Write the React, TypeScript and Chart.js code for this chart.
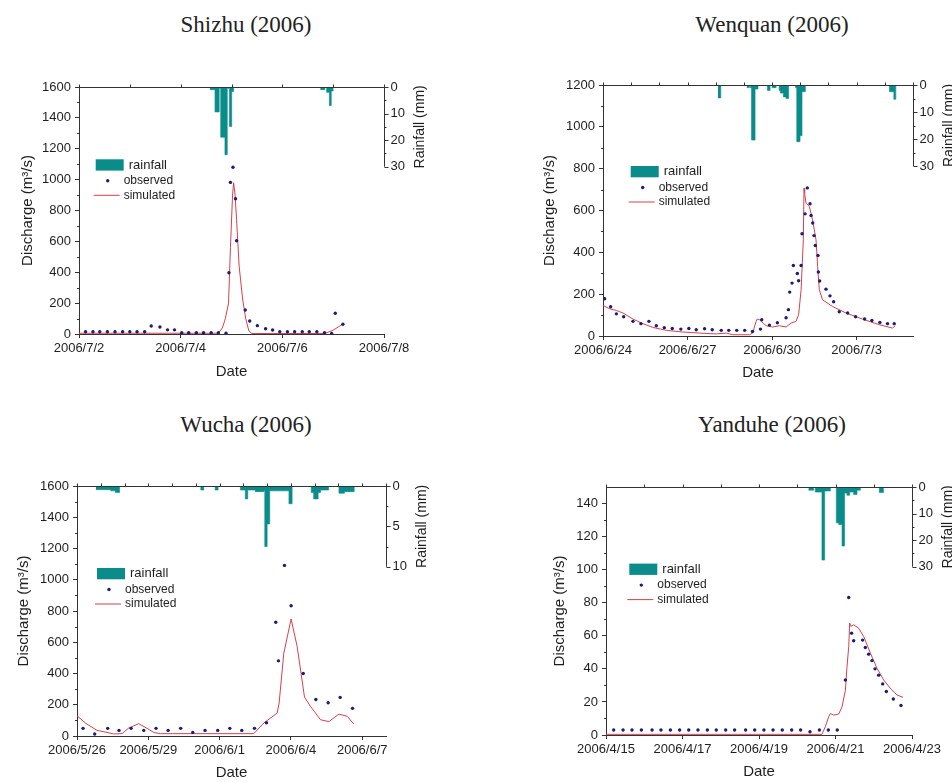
import React, { useEffect, useRef } from "react";
import { Chart, registerables } from "chart.js";

Chart.register(...registerables);

const FONT = "'Liberation Sans', Arial, Helvetica, sans-serif";
const TITLE_FONT = "'Liberation Serif', 'DejaVu Serif', serif";
const TEAL = "#0a8d8a";
const NAVY = "#1b1b78";
const RED = "#d6404c";
const AXIS = "#333333";
const TEXT = "#1e1e1e";

Chart.defaults.font.family = FONT;

// ---------------- Shizhu (2006) ----------------  x in hours from 2006/7/2 00:00
const shizhuXTicks = [0, 48, 96, 144];
const shizhuXLabels = ["2006/7/2", "2006/7/4", "2006/7/6", "2006/7/8"];
const shizhuYTicks = [0, 200, 400, 600, 800, 1000, 1200, 1400, 1600];
const shizhuRainTicks = [0, 10, 20, 30];
const shizhuObsT = [3.1, 6.6, 9.8, 13.4, 17.0, 20.6, 24.0, 27.4, 31.0, 34.1, 38.2, 41.8, 45.1, 48.5, 51.8, 55.4, 58.8, 62.4, 65.8, 69.4, 70.8, 71.5, 72.7, 73.9, 74.4, 78.5, 80.6, 84.2, 88.1, 91.4, 94.8, 98.4, 101.8, 105.4, 108.7, 112.3, 115.9, 119.3, 121.0, 124.6];
const shizhuObsQ = [15, 15, 15, 15, 15, 15, 15, 15, 15, 52, 45, 27, 27, 8, 8, 8, 8, 8, 8, 5, 397, 982, 1080, 876, 604, 155, 84, 54, 34, 26, 15, 15, 15, 15, 15, 15, 9, 4, 134, 63];
const shizhuSimT = [0, 65.8, 67.7, 69.1, 70.6, 71.5, 72.5, 73.0, 73.7, 74.4, 75.6, 77.3, 78.7, 80.2, 81.6, 116.2, 120.0, 124.3];
const shizhuSimQ = [5, 5, 40, 100, 200, 560, 900, 980, 900, 740, 440, 220, 100, 20, 3, 3, 25, 62];
const shizhuRainT = [61.8, 64.2, 66.2, 66.9, 68.9, 70.0, 71.0, 72.1, 73.0, 114.1, 116.1, 116.9, 118.2, 119.1, 120.0];
const shizhuRainMm = [1, 9.4, 0.5, 18.9, 25.5, 0.5, 14.9, 1.7, 0, 1, 0, 2, 7, 1.5, 0];

// ---------------- Wenquan (2006) ----------------  x in hours from 2006/6/24 00:00
const wenquanXTicks = [0, 72, 144, 216];
const wenquanXLabels = ["2006/6/24", "2006/6/27", "2006/6/30", "2006/7/3"];
const wenquanYTicks = [0, 200, 400, 600, 800, 1000, 1200];
const wenquanRainTicks = [0, 10, 20, 30];
const wenquanObsT = [1.4, 6.5, 11.4, 17.6, 25.5, 32.3, 39.1, 45.4, 52.2, 59.0, 66.3, 73.1, 79.4, 86.5, 93.0, 100.7, 107.1, 113.9, 120.7, 127.3, 134.1, 135.2, 141.7, 148.5, 155.9, 157.9, 159.0, 161.0, 162.1, 165.5, 166.6, 168.7, 169.5, 172.1, 174.0, 176.3, 177.2, 178.6, 179.7, 180.8, 183.1, 183.4, 184.5, 189.9, 193.3, 196.4, 201.2, 208.3, 215.1, 222.8, 229.0, 235.8, 242.3, 248.0];
const wenquanObsQ = [178, 140, 106, 92, 70, 59, 70, 49, 40, 36, 33, 36, 30, 35, 30, 27, 27, 27, 27, 22, 33, 78, 52, 63, 87, 126, 210, 253, 337, 299, 264, 337, 489, 584, 708, 632, 576, 540, 480, 433, 385, 306, 263, 224, 192, 164, 116, 110, 92, 81, 74, 65, 59, 59];
const wenquanSimT = [0, 5.7, 11.4, 17.0, 25.5, 34.0, 42.5, 53.9, 68.0, 82.2, 96.4, 105.0, 110.5, 124.7, 127.5, 130.4, 131.3, 133.2, 138.9, 144.5, 150.2, 155.9, 160.2, 164.4, 166.6, 168.7, 170.6, 171.2, 171.7, 172.9, 175.7, 178.5, 181.4, 182.8, 184.2, 187.0, 195.5, 206.9, 221.0, 235.2, 246.5, 248.9];
const wenquanSimQ = [146, 130, 122, 110, 81, 59, 41, 27, 19, 14, 10, 14, 6, 6, 14, 70, 81, 78, 49, 43, 49, 43, 62, 70, 102, 221, 460, 707, 683, 635, 619, 555, 460, 332, 221, 173, 141, 110, 81, 54, 38, 49];
const wenquanRainT = [97.8, 100.3, 122.8, 124.7, 125.5, 126.5, 129.5, 132.0, 140.0, 142.3, 144.0, 147.4, 150.0, 151.0, 153.6, 155.9, 158.1, 164.0, 165.0, 167.8, 169.5, 172.3, 244.0, 247.7, 249.4];
const wenquanRainMm = [4.8, 0, 1, 0, 1, 20.4, 1.5, 0, 2, 0, 1, 0, 2, 3, 4.4, 5, 0, 1, 21, 18.8, 2.5, 0, 2.5, 5.3, 0];

// ---------------- Wucha (2006) ----------------  x in hours from 2006/5/26 00:00
const wuchaXTicks = [0, 72, 144, 216, 288];
const wuchaXLabels = ["2006/5/26", "2006/5/29", "2006/6/1", "2006/6/4", "2006/6/7"];
const wuchaYTicks = [0, 200, 400, 600, 800, 1000, 1200, 1400, 1600];
const wuchaRainTicks = [0, 5, 10];
const wuchaObsT = [6.1, 17.9, 31.0, 42.4, 54.6, 67.4, 79.8, 92.0, 104.7, 116.9, 129.3, 142.1, 154.3, 166.4, 179.2, 191.3, 200.7, 203.4, 209.5, 216.2, 228.4, 241.2, 253.6, 265.7, 278.2];
const wuchaObsQ = [49, 13, 49, 36, 49, 36, 49, 36, 49, 23, 36, 36, 49, 36, 49, 85, 728, 481, 1092, 834, 400, 234, 213, 247, 177];
const wuchaSimT = [0, 8.4, 20.2, 30.3, 37.0, 45.5, 52.2, 62.3, 70.7, 77.5, 84.2, 178.5, 188.6, 202.1, 204.1, 208.8, 216.2, 222.3, 229.7, 235.8, 245.9, 254.3, 264.4, 272.8, 279.5];
const wuchaSimQ = [130, 83, 36, 23, 13, 15, 51, 79, 49, 23, 15, 15, 83, 147, 211, 530, 749, 572, 249, 189, 104, 92, 140, 126, 77];
const wuchaRainT = [19, 34, 38.7, 43, 125, 128, 139.5, 142.5, 165, 170, 172.4, 180, 188.6, 189.6, 192, 194.6, 214, 217.2, 236.5, 239, 243.5, 246, 254, 264.5, 270, 280];
const wuchaRainMm = [0.45, 0.6, 0.8, 0, 0.5, 0, 0.5, 0, 0.5, 1.6, 0.5, 0.7, 0.6, 7.5, 4.7, 0.6, 2.2, 0, 0.8, 1.6, 0.8, 0.5, 0, 0.9, 0.7, 0];

// ---------------- Yanduhe (2006) ----------------  x in hours from 2006/4/15 00:00
const yanduheXTicks = [0, 48, 96, 144, 192];
const yanduheXLabels = ["2006/4/15", "2006/4/17", "2006/4/19", "2006/4/21", "2006/4/23"];
const yanduheYTicks = [0, 20, 40, 60, 80, 100, 120, 140];
const yanduheRainTicks = [0, 10, 20, 30];
const yanduheObsT = [4.8, 10.7, 16.3, 22.2, 28.9, 34.5, 40.4, 46.2, 51.9, 57.7, 63.6, 69.2, 75.1, 80.7, 87.6, 93.3, 99.1, 104.8, 110.6, 116.5, 122.1, 128.0, 133.9, 139.5, 145.1, 150.2, 152.3, 154.1, 155.4, 161.0, 162.7, 164.8, 166.9, 168.8, 171.1, 173.6, 175.9, 180.3, 185.1];
const yanduheObsQ = [3, 3, 3, 3, 3, 3, 3, 3, 3, 3, 3, 3, 3, 3, 3, 3, 3, 3, 3, 3, 3, 2, 3, 3, 3, 33.3, 83.2, 61.6, 57, 57.4, 52.9, 48.9, 45, 40, 36.2, 30.9, 26.3, 21.8, 17.8];
const yanduheSimT = [0, 135.5, 137.6, 139.7, 140.8, 142.9, 146.0, 148.1, 150.2, 151.2, 152.3, 152.9, 153.7, 155.4, 158.5, 161.7, 165.9, 170.0, 174.2, 178.4, 182.6, 186.4];
const yanduheSimQ = [0.4, 0.4, 5, 11, 13, 12, 12.7, 17, 27, 41, 53.5, 67.7, 65.7, 66.7, 64.6, 59.6, 49.5, 40.4, 33.3, 28.3, 24.2, 22.8];
const yanduheRainT = [127.0, 130.3, 131.3, 135.5, 137.2, 140.8, 144.5, 146.0, 148.1, 149.7, 151.2, 152.9, 155.4, 157.5, 159.6, 171.5, 174.2];
const yanduheRainMm = [1.2, 0, 1.9, 27.5, 1.5, 0, 13.5, 14.1, 22.2, 2.3, 3.1, 1.9, 2.8, 1.2, 0, 2.1, 0];

type PanelDef = {
  key: string;
  title: string;
  titleX: number;
  titleY: number;
  cx: number; cy: number; cw: number; ch: number; // canvas rect on page
  L: number; T: number; R: number; B: number;     // plot area on page
  yTitleX: number; dateY: number; rainBottom: number;
  legend: [number, number];
  xMax: number; xTicks: number[]; xLabels: string[];
  yMax: number; yTicks: number[]; yMinor: number;
  rainTicks: number[]; rainMinor: number;
  obsT: number[]; obsQ: number[];
  simT: number[]; simQ: number[];
  rainT: number[]; rainMm: number[];
};

const panels: PanelDef[] = [
  {
    key: "shizhu", title: "Shizhu (2006)", titleX: 246, titleY: 25,
    cx: 0, cy: 40, cw: 476, ch: 360,
    L: 79, T: 87, R: 384, B: 334,
    yTitleX: 28, dateY: 371.7, rainBottom: 166.7, legend: [16.7, 72.3],
    xMax: 144, xTicks: shizhuXTicks, xLabels: shizhuXLabels,
    yMax: 1600, yTicks: shizhuYTicks, yMinor: 100,
    rainTicks: shizhuRainTicks, rainMinor: 5,
    obsT: shizhuObsT, obsQ: shizhuObsQ, simT: shizhuSimT, simQ: shizhuSimQ,
    rainT: shizhuRainT, rainMm: shizhuRainMm,
  },
  {
    key: "wenquan", title: "Wenquan (2006)", titleX: 772, titleY: 25,
    cx: 476, cy: 40, cw: 476, ch: 360,
    L: 603, T: 85, R: 913, B: 336,
    yTitleX: 550, dateY: 373.3, rainBottom: 166, legend: [27.7, 81],
    xMax: 264, xTicks: wenquanXTicks, xLabels: wenquanXLabels,
    yMax: 1200, yTicks: wenquanYTicks, yMinor: 100,
    rainTicks: wenquanRainTicks, rainMinor: 5,
    obsT: wenquanObsT, obsQ: wenquanObsQ, simT: wenquanSimT, simQ: wenquanSimQ,
    rainT: wenquanRainT, rainMm: wenquanRainMm,
  },
  {
    key: "wucha", title: "Wucha (2006)", titleX: 246, titleY: 425,
    cx: 0, cy: 430, cw: 476, ch: 352,
    L: 77, T: 486, R: 386, B: 736,
    yTitleX: 24, dateY: 773.3, rainBottom: 566.7, legend: [20, 82],
    xMax: 312, xTicks: wuchaXTicks, xLabels: wuchaXLabels,
    yMax: 1600, yTicks: wuchaYTicks, yMinor: 100,
    rainTicks: wuchaRainTicks, rainMinor: 2.5,
    obsT: wuchaObsT, obsQ: wuchaObsQ, simT: wuchaSimT, simQ: wuchaSimQ,
    rainT: wuchaRainT, rainMm: wuchaRainMm,
  },
  {
    key: "yanduhe", title: "Yanduhe (2006)", titleX: 772, titleY: 425,
    cx: 476, cy: 430, cw: 476, ch: 352,
    L: 606, T: 487, R: 912, B: 735,
    yTitleX: 560, dateY: 771.7, rainBottom: 566.7, legend: [23.3, 76.6],
    xMax: 192, xTicks: yanduheXTicks, xLabels: yanduheXLabels,
    yMax: 150, yTicks: yanduheYTicks, yMinor: 10,
    rainTicks: yanduheRainTicks, rainMinor: 5,
    obsT: yanduheObsT, obsQ: yanduheObsQ, simT: yanduheSimT, simQ: yanduheSimQ,
    rainT: yanduheRainT, rainMm: yanduheRainMm,
  },
];

const pts = (xs: number[], ys: number[]) => xs.map((x, i) => ({ x, y: ys[i] }));

function makeDecor(p: PanelDef) {
  return {
    id: "decor_" + p.key,
    afterDraw(chart: any) {
      const ctx: CanvasRenderingContext2D = chart.ctx;
      const ca = chart.chartArea;
      const xs = chart.scales.x;
      const ys = chart.scales.y;
      const rs = chart.scales.y2;
      ctx.save();
      ctx.strokeStyle = AXIS;
      ctx.lineWidth = 1;
      // top frame with small ticks
      const top = Math.round(ca.top) + 0.5;
      ctx.beginPath();
      ctx.moveTo(ca.left, top);
      ctx.lineTo(ca.right + 0.5, top);
      for (let t = 0; t <= p.xMax + 1e-6; t += 24) {
        const px = Math.round(xs.getPixelForValue(t)) + 0.5;
        ctx.moveTo(px, top);
        ctx.lineTo(px, top - 3);
      }
      ctx.stroke();
      // left minor ticks
      ctx.beginPath();
      for (let v = p.yMinor; v < p.yMax - 1e-6; v += p.yMinor) {
        if (p.yTicks.indexOf(v) >= 0) continue;
        const py = Math.round(ys.getPixelForValue(v)) + 0.5;
        ctx.moveTo(ca.left - 2, py);
        ctx.lineTo(ca.left, py);
      }
      ctx.stroke();
      // right rainfall axis (top part only)
      const rx = Math.round(ca.right) + 0.5;
      const rMax = p.rainTicks[p.rainTicks.length - 1];
      const rb = rs.getPixelForValue(rMax);
      ctx.beginPath();
      ctx.moveTo(rx, top);
      ctx.lineTo(rx, rb);
      p.rainTicks.forEach((v) => {
        const py = Math.round(rs.getPixelForValue(v)) + 0.5;
        ctx.moveTo(rx, py);
        ctx.lineTo(rx + 4, py);
      });
      for (let v = p.rainMinor; v < rMax; v += p.rainMinor) {
        if (p.rainTicks.indexOf(v) >= 0) continue;
        const py = Math.round(rs.getPixelForValue(v)) + 0.5;
        ctx.moveTo(rx, py);
        ctx.lineTo(rx + 2, py);
      }
      ctx.stroke();
      ctx.fillStyle = TEXT;
      ctx.font = "13px " + FONT;
      ctx.textAlign = "left";
      ctx.textBaseline = "middle";
      p.rainTicks.forEach((v) => {
        ctx.fillText(String(v), rx + 6, rs.getPixelForValue(v));
      });
      ctx.save();
      ctx.translate(rx + 36, (ca.top + rb) / 2);
      ctx.rotate(-Math.PI / 2);
      ctx.textAlign = "center";
      ctx.font = "14px " + FONT;
      ctx.fillText("Rainfall (mm)", 0, 0);
      ctx.restore();
      // legend
      const lx = ca.left + p.legend[0];
      const ly = ca.top + p.legend[1];
      ctx.fillStyle = TEAL;
      ctx.fillRect(lx, ly, 28, 11.3);
      ctx.fillStyle = TEXT;
      ctx.font = "13px " + FONT;
      ctx.fillText("rainfall", lx + 33, ly + 5.8);
      ctx.font = "12px " + FONT;
      ctx.fillText("observed", lx + 28, ly + 21.5);
      ctx.fillText("simulated", lx + 28, ly + 36);
      ctx.fillStyle = NAVY;
      ctx.beginPath();
      ctx.arc(lx + 12, ly + 21.5, 1.7, 0, Math.PI * 2);
      ctx.fill();
      ctx.strokeStyle = RED;
      ctx.lineWidth = 1;
      ctx.beginPath();
      ctx.moveTo(lx - 2, ly + 36);
      ctx.lineTo(lx + 24, ly + 36);
      ctx.stroke();
      ctx.restore();
    },
  };
}

function PanelChart({ p }: { p: PanelDef }) {
  const ref = useRef<HTMLCanvasElement>(null);
  useEffect(() => {
    const canvas = ref.current;
    if (!canvas) return;
    const yWidth = p.L - p.cx;
    const padTop = p.T - p.cy;
    const padRight = p.cx + p.cw - p.R;
    const xHeight = p.cy + p.ch - p.B;
    const rainAxisMax = p.rainTicks[p.rainTicks.length - 1] * (p.B - p.T) / (p.rainBottom - p.T);
    const gridOpts = { drawOnChartArea: false, drawTicks: true, tickLength: 4, color: AXIS, lineWidth: 1 };
    const chart = new Chart(canvas, {
      type: "scatter",
      data: {
        datasets: [
          {
            type: "scatter",
            label: "observed",
            data: pts(p.obsT, p.obsQ),
            yAxisID: "y",
            pointRadius: 1.7,
            pointBackgroundColor: NAVY,
            pointBorderWidth: 0,
            showLine: false,
          } as any,
          {
            type: "line",
            label: "simulated",
            data: pts(p.simT, p.simQ),
            yAxisID: "y",
            borderColor: RED,
            borderWidth: 1,
            pointRadius: 0,
            tension: 0,
            fill: false,
          } as any,
          {
            type: "line",
            label: "rainfall",
            data: pts(p.rainT, p.rainMm),
            yAxisID: "y2",
            stepped: true,
            fill: "origin",
            backgroundColor: TEAL,
            borderColor: TEAL,
            borderWidth: 0.6,
            pointRadius: 0,
          } as any,
        ],
      },
      options: {
        responsive: false,
        maintainAspectRatio: false,
        animation: false,
        events: [],
        layout: { padding: { top: padTop, right: padRight, bottom: 0, left: 0 } },
        plugins: { legend: { display: false }, tooltip: { enabled: false }, title: { display: false } },
        scales: {
          x: {
            type: "linear",
            min: 0,
            max: p.xMax,
            afterBuildTicks: (s: any) => { s.ticks = p.xTicks.map((v) => ({ value: v })); },
            afterFit: (s: any) => { s.height = xHeight; },
            ticks: {
              autoSkip: false,
              maxRotation: 0,
              padding: 3,
              color: TEXT,
              font: { size: 13, family: FONT },
              callback: (v: any) => p.xLabels[p.xTicks.indexOf(Number(v))] ?? "",
            },
            grid: gridOpts,
            border: { color: AXIS, width: 1 },
            title: {
              display: true,
              text: "Date",
              color: TEXT,
              font: { size: 15, family: FONT },
              padding: { top: 0, bottom: Math.max(0, p.cy + p.ch - 9 - p.dateY) },
            },
          },
          y: {
            type: "linear",
            position: "left",
            min: 0,
            max: p.yMax,
            afterBuildTicks: (s: any) => { s.ticks = p.yTicks.map((v) => ({ value: v })); },
            afterFit: (s: any) => { s.width = yWidth; },
            ticks: {
              padding: 4,
              color: TEXT,
              font: { size: 13, family: FONT },
              callback: (v: any) => String(v),
            },
            grid: gridOpts,
            border: { color: AXIS, width: 1 },
            title: {
              display: true,
              text: "Discharge (m³/s)",
              color: TEXT,
              font: { size: 15, family: FONT },
              padding: { top: p.yTitleX - p.cx - 9, bottom: 0 },
            },
          },
          y2: {
            type: "linear",
            position: "right",
            display: false,
            reverse: true,
            min: 0,
            max: rainAxisMax,
          },
        },
      } as any,
      plugins: [makeDecor(p)],
    });
    return () => chart.destroy();
  }, [p]);
  return (
    <canvas
      ref={ref}
      width={p.cw}
      height={p.ch}
      style={{ position: "absolute", left: p.cx, top: p.cy, width: p.cw, height: p.ch }}
    />
  );
}

export default function App() {
  return (
    <div
      style={{
        position: "absolute",
        left: 0,
        top: 0,
        width: 952,
        height: 782,
        overflow: "hidden",
        background: "#ffffff",
      }}
    >
      {panels.map((p) => (
        <React.Fragment key={p.key}>
          <div
            style={{
              position: "absolute",
              left: p.titleX - 200,
              top: p.titleY - 14,
              width: 400,
              height: 28,
              lineHeight: "28px",
              textAlign: "center",
              fontFamily: TITLE_FONT,
              fontSize: 23,
              color: "#222",
              whiteSpace: "nowrap",
            }}
          >
            {p.title}
          </div>
          <PanelChart p={p} />
        </React.Fragment>
      ))}
    </div>
  );
}
